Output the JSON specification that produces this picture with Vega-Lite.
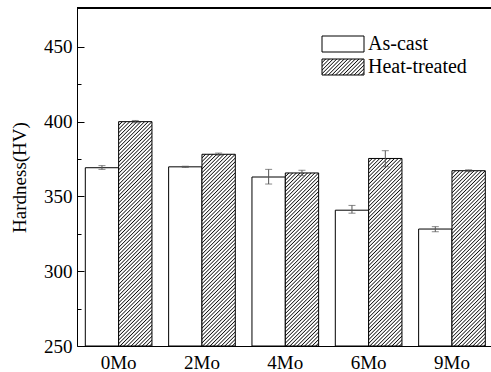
{
  "$schema": "https://vega.github.io/schema/vega-lite/v6.json",
  "autosize": {"type": "none"},
  "padding": {"left": 77, "top": 8, "right": 0, "bottom": 26},
  "width": 414,
  "height": 338,
  "background": "#ffffff",
  "config": {"view": {"stroke": null}, "font": "Liberation Serif",
             "axis": {"labelFont": "Liberation Serif", "titleFont": "Liberation Serif"},
             "legend": {"labelFont": "Liberation Serif"}},
  "params": [
    {"name": "hatchStops", "value": [
      {"offset":0,"color":"#111"},{"offset":0.003,"color":"#fff"},{"offset":0.007,"color":"#fff"},
      {"offset":0.01,"color":"#111"},{"offset":0.013,"color":"#fff"},{"offset":0.017,"color":"#fff"},
      {"offset":0.02,"color":"#111"},{"offset":0.023,"color":"#fff"},{"offset":0.027,"color":"#fff"},
      {"offset":0.03,"color":"#111"},{"offset":0.033,"color":"#fff"},{"offset":0.037,"color":"#fff"},
      {"offset":0.04,"color":"#111"},{"offset":0.043,"color":"#fff"},{"offset":0.047,"color":"#fff"},
      {"offset":0.05,"color":"#111"},{"offset":0.053,"color":"#fff"},{"offset":0.057,"color":"#fff"},
      {"offset":0.06,"color":"#111"},{"offset":0.063,"color":"#fff"},{"offset":0.067,"color":"#fff"},
      {"offset":0.07,"color":"#111"},{"offset":0.073,"color":"#fff"},{"offset":0.077,"color":"#fff"},
      {"offset":0.08,"color":"#111"},{"offset":0.083,"color":"#fff"},{"offset":0.087,"color":"#fff"},
      {"offset":0.09,"color":"#111"},{"offset":0.093,"color":"#fff"},{"offset":0.097,"color":"#fff"},
      {"offset":0.1,"color":"#111"},{"offset":0.103,"color":"#fff"},{"offset":0.107,"color":"#fff"},
      {"offset":0.11,"color":"#111"},{"offset":0.113,"color":"#fff"},{"offset":0.117,"color":"#fff"},
      {"offset":0.12,"color":"#111"},{"offset":0.123,"color":"#fff"},{"offset":0.127,"color":"#fff"},
      {"offset":0.13,"color":"#111"},{"offset":0.133,"color":"#fff"},{"offset":0.137,"color":"#fff"},
      {"offset":0.14,"color":"#111"},{"offset":0.143,"color":"#fff"},{"offset":0.147,"color":"#fff"},
      {"offset":0.15,"color":"#111"},{"offset":0.153,"color":"#fff"},{"offset":0.157,"color":"#fff"},
      {"offset":0.16,"color":"#111"},{"offset":0.163,"color":"#fff"},{"offset":0.167,"color":"#fff"},
      {"offset":0.17,"color":"#111"},{"offset":0.173,"color":"#fff"},{"offset":0.177,"color":"#fff"},
      {"offset":0.18,"color":"#111"},{"offset":0.183,"color":"#fff"},{"offset":0.187,"color":"#fff"},
      {"offset":0.19,"color":"#111"},{"offset":0.193,"color":"#fff"},{"offset":0.197,"color":"#fff"},
      {"offset":0.2,"color":"#111"},{"offset":0.203,"color":"#fff"},{"offset":0.207,"color":"#fff"},
      {"offset":0.21,"color":"#111"},{"offset":0.213,"color":"#fff"},{"offset":0.217,"color":"#fff"},
      {"offset":0.22,"color":"#111"},{"offset":0.223,"color":"#fff"},{"offset":0.227,"color":"#fff"},
      {"offset":0.23,"color":"#111"},{"offset":0.233,"color":"#fff"},{"offset":0.237,"color":"#fff"},
      {"offset":0.24,"color":"#111"},{"offset":0.243,"color":"#fff"},{"offset":0.247,"color":"#fff"},
      {"offset":0.25,"color":"#111"},{"offset":0.253,"color":"#fff"},{"offset":0.257,"color":"#fff"},
      {"offset":0.26,"color":"#111"},{"offset":0.263,"color":"#fff"},{"offset":0.267,"color":"#fff"},
      {"offset":0.27,"color":"#111"},{"offset":0.273,"color":"#fff"},{"offset":0.277,"color":"#fff"},
      {"offset":0.28,"color":"#111"},{"offset":0.283,"color":"#fff"},{"offset":0.287,"color":"#fff"},
      {"offset":0.29,"color":"#111"},{"offset":0.293,"color":"#fff"},{"offset":0.297,"color":"#fff"},
      {"offset":0.3,"color":"#111"},{"offset":0.303,"color":"#fff"},{"offset":0.307,"color":"#fff"},
      {"offset":0.31,"color":"#111"},{"offset":0.313,"color":"#fff"},{"offset":0.317,"color":"#fff"},
      {"offset":0.32,"color":"#111"},{"offset":0.323,"color":"#fff"},{"offset":0.327,"color":"#fff"},
      {"offset":0.33,"color":"#111"},{"offset":0.333,"color":"#fff"},{"offset":0.337,"color":"#fff"},
      {"offset":0.34,"color":"#111"},{"offset":0.343,"color":"#fff"},{"offset":0.347,"color":"#fff"},
      {"offset":0.35,"color":"#111"},{"offset":0.353,"color":"#fff"},{"offset":0.357,"color":"#fff"},
      {"offset":0.36,"color":"#111"},{"offset":0.363,"color":"#fff"},{"offset":0.367,"color":"#fff"},
      {"offset":0.37,"color":"#111"},{"offset":0.373,"color":"#fff"},{"offset":0.377,"color":"#fff"},
      {"offset":0.38,"color":"#111"},{"offset":0.383,"color":"#fff"},{"offset":0.387,"color":"#fff"},
      {"offset":0.39,"color":"#111"},{"offset":0.393,"color":"#fff"},{"offset":0.397,"color":"#fff"},
      {"offset":0.4,"color":"#111"},{"offset":0.403,"color":"#fff"},{"offset":0.407,"color":"#fff"},
      {"offset":0.41,"color":"#111"},{"offset":0.413,"color":"#fff"},{"offset":0.417,"color":"#fff"},
      {"offset":0.42,"color":"#111"},{"offset":0.423,"color":"#fff"},{"offset":0.427,"color":"#fff"},
      {"offset":0.43,"color":"#111"},{"offset":0.433,"color":"#fff"},{"offset":0.437,"color":"#fff"},
      {"offset":0.44,"color":"#111"},{"offset":0.443,"color":"#fff"},{"offset":0.447,"color":"#fff"},
      {"offset":0.45,"color":"#111"},{"offset":0.453,"color":"#fff"},{"offset":0.457,"color":"#fff"},
      {"offset":0.46,"color":"#111"},{"offset":0.463,"color":"#fff"},{"offset":0.467,"color":"#fff"},
      {"offset":0.47,"color":"#111"},{"offset":0.473,"color":"#fff"},{"offset":0.477,"color":"#fff"},
      {"offset":0.48,"color":"#111"},{"offset":0.483,"color":"#fff"},{"offset":0.487,"color":"#fff"},
      {"offset":0.49,"color":"#111"},{"offset":0.493,"color":"#fff"},{"offset":0.497,"color":"#fff"},
      {"offset":0.5,"color":"#111"},{"offset":0.503,"color":"#fff"},{"offset":0.507,"color":"#fff"},
      {"offset":0.51,"color":"#111"},{"offset":0.513,"color":"#fff"},{"offset":0.517,"color":"#fff"},
      {"offset":0.52,"color":"#111"},{"offset":0.523,"color":"#fff"},{"offset":0.527,"color":"#fff"},
      {"offset":0.53,"color":"#111"},{"offset":0.533,"color":"#fff"},{"offset":0.537,"color":"#fff"},
      {"offset":0.54,"color":"#111"},{"offset":0.543,"color":"#fff"},{"offset":0.547,"color":"#fff"},
      {"offset":0.55,"color":"#111"},{"offset":0.553,"color":"#fff"},{"offset":0.557,"color":"#fff"},
      {"offset":0.56,"color":"#111"},{"offset":0.563,"color":"#fff"},{"offset":0.567,"color":"#fff"},
      {"offset":0.57,"color":"#111"},{"offset":0.573,"color":"#fff"},{"offset":0.577,"color":"#fff"},
      {"offset":0.58,"color":"#111"},{"offset":0.583,"color":"#fff"},{"offset":0.587,"color":"#fff"},
      {"offset":0.59,"color":"#111"},{"offset":0.593,"color":"#fff"},{"offset":0.597,"color":"#fff"},
      {"offset":0.6,"color":"#111"},{"offset":0.603,"color":"#fff"},{"offset":0.607,"color":"#fff"},
      {"offset":0.61,"color":"#111"},{"offset":0.613,"color":"#fff"},{"offset":0.617,"color":"#fff"},
      {"offset":0.62,"color":"#111"},{"offset":0.623,"color":"#fff"},{"offset":0.627,"color":"#fff"},
      {"offset":0.63,"color":"#111"},{"offset":0.633,"color":"#fff"},{"offset":0.637,"color":"#fff"},
      {"offset":0.64,"color":"#111"},{"offset":0.643,"color":"#fff"},{"offset":0.647,"color":"#fff"},
      {"offset":0.65,"color":"#111"},{"offset":0.653,"color":"#fff"},{"offset":0.657,"color":"#fff"},
      {"offset":0.66,"color":"#111"},{"offset":0.663,"color":"#fff"},{"offset":0.667,"color":"#fff"},
      {"offset":0.67,"color":"#111"},{"offset":0.673,"color":"#fff"},{"offset":0.677,"color":"#fff"},
      {"offset":0.68,"color":"#111"},{"offset":0.683,"color":"#fff"},{"offset":0.687,"color":"#fff"},
      {"offset":0.69,"color":"#111"},{"offset":0.693,"color":"#fff"},{"offset":0.697,"color":"#fff"},
      {"offset":0.7,"color":"#111"},{"offset":0.703,"color":"#fff"}
    ]}
  ],
  "data": {"values": [
    {"alloy": "0Mo", "type": "As-cast", "hardness": 369.2, "lo": 368.1, "hi": 370.6},
    {"alloy": "0Mo", "type": "Heat-treated", "hardness": 400.0, "lo": 399.3, "hi": 400.8},
    {"alloy": "2Mo", "type": "As-cast", "hardness": 369.8, "lo": 369.4, "hi": 370.2},
    {"alloy": "2Mo", "type": "Heat-treated", "hardness": 378.2, "lo": 377.6, "hi": 379.0},
    {"alloy": "4Mo", "type": "As-cast", "hardness": 363.0, "lo": 358.3, "hi": 368.1},
    {"alloy": "4Mo", "type": "Heat-treated", "hardness": 365.7, "lo": 363.9, "hi": 367.5},
    {"alloy": "6Mo", "type": "As-cast", "hardness": 340.8, "lo": 338.8, "hi": 344.0},
    {"alloy": "6Mo", "type": "Heat-treated", "hardness": 375.4, "lo": 369.9, "hi": 380.6},
    {"alloy": "9Mo", "type": "As-cast", "hardness": 328.2, "lo": 326.4, "hi": 329.8},
    {"alloy": "9Mo", "type": "Heat-treated", "hardness": 367.2, "lo": 366.6, "hi": 367.8}
  ]},
  "resolve": {"axis": {"y": "independent"}},
  "layer": [
    {
      "mark": {"type": "bar", "stroke": "#000", "strokeWidth": 1},
      "encoding": {
        "x": {"field": "alloy", "type": "nominal", "sort": ["0Mo","2Mo","4Mo","6Mo","9Mo"],
              "scale": {"paddingInner": 0.2, "paddingOuter": 0.084, "align": 0.593},
              "axis": {"orient": "bottom", "title": null, "ticks": false, "labelAngle": 0, "labelFont": "Liberation Serif", "labelFontSize": 19, "labelColor": "#000", "domainColor": "#000", "labelPadding": 7}},
        "xOffset": {"field": "type", "type": "nominal", "scale": {"domain": ["As-cast","Heat-treated"], "paddingInner": 0, "paddingOuter": 0}},
        "y": {"field": "hardness", "type": "quantitative",
              "scale": {"domain": [250, 476], "nice": false, "zero": false},
              "axis": {"orient": "left", "values": [250,300,350,400,450],
                       "ticks": false,
                       "grid": false, "domainColor": "#000",
                       "labelFont": "Liberation Serif", "labelFontSize": 19, "labelColor": "#000", "labelPadding": 5,
                       "title": "Hardness(HV)", "titleFont": "Liberation Serif", "titleFontSize": 19, "titleFontWeight": "normal", "titleColor": "#000", "titlePadding": 14}},
        "y2": {"datum": 250},
        "fill": {
          "condition": {"test": "datum.type === 'Heat-treated'",
                        "value": {"expr": "{gradient: 'linear', x1: 0, y1: 0, x2: 370 * bandwidth('xOffset') / (pow(bandwidth('xOffset'), 2) + pow(scale('y', 250) - scale('y', datum.hardness), 2)), y2: 370 * (scale('y', 250) - scale('y', datum.hardness)) / (pow(bandwidth('xOffset'), 2) + pow(scale('y', 250) - scale('y', datum.hardness), 2)), stops: hatchStops}"}},
          "field": "type", "type": "nominal",
          "scale": {"domain": ["As-cast","Heat-treated"], "range": ["#ffffff", {"expr": "{gradient: 'linear', x1: 0, y1: 0, x2: 7.693, y2: 2.931, stops: hatchStops}"}]},
          "legend": {"orient": "none", "legendX": 256, "legendY": 26, "title": null, "padding": 0,
                     "symbolType": "M-2.625,-1H2.625V1H-2.625Z", "symbolSize": 256,
                     "symbolStrokeColor": "#000", "symbolStrokeWidth": 1,
                     "labelFont": "Liberation Serif", "labelFontSize": 20, "labelColor": "#000",
                     "labelOffset": 15, "rowPadding": 3}
        }
      }
    },
    {
      "mark": {"type": "rule", "color": "#555", "strokeWidth": 1},
      "encoding": {
        "x": {"field": "alloy", "type": "nominal", "sort": ["0Mo","2Mo","4Mo","6Mo","9Mo"]},
        "xOffset": {"field": "type", "type": "nominal"},
        "y": {"field": "lo", "type": "quantitative",
              "axis": {"orient": "right", "offset": -414, "values": [275,325,375,425], "labels": false, "domain": false, "grid": false, "title": null, "tickSize": 4, "tickColor": "#000"}},
        "y2": {"field": "hi"}
      }
    },
    {
      "mark": {"type": "tick", "color": "#555", "thickness": 1, "size": 7, "orient": "horizontal"},
      "encoding": {
        "x": {"field": "alloy", "type": "nominal", "sort": ["0Mo","2Mo","4Mo","6Mo","9Mo"]},
        "xOffset": {"field": "type", "type": "nominal"},
        "y": {"field": "lo", "type": "quantitative", "axis": null}
      }
    },
    {
      "mark": {"type": "tick", "color": "#555", "thickness": 1, "size": 7, "orient": "horizontal"},
      "encoding": {
        "x": {"field": "alloy", "type": "nominal", "sort": ["0Mo","2Mo","4Mo","6Mo","9Mo"]},
        "xOffset": {"field": "type", "type": "nominal"},
        "y": {"field": "hi", "type": "quantitative", "axis": null}
      }
    },
    {
      "mark": {"type": "rule", "color": "#000", "strokeWidth": 1},
      "encoding": {"y": {"datum": 476, "axis": {"orient": "right", "offset": -414, "values": [250,300,350,400,450], "labels": false, "domain": false, "grid": false, "title": null, "tickSize": 7, "tickColor": "#000"}}}
    }
  ]
}
